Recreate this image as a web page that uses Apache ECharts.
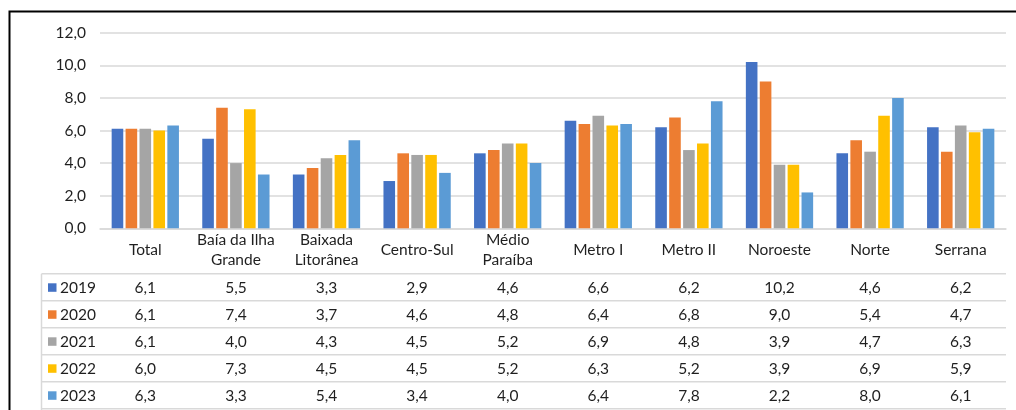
<!DOCTYPE html>
<html>
<head>
<meta charset="utf-8">
<script src="https://cdn.jsdelivr.net/npm/echarts@6/dist/echarts.min.js"></script>
<style>
  html, body { margin: 0; padding: 0; background: #fff; }
  #chart { width: 1016px; height: 410px; }
</style>
</head>
<body>
<div id="chart"></div>
<script>
const categories = ['Total', 'Baía da Ilha\nGrande', 'Baixada\nLitorânea', 'Centro-Sul', 'Médio\nParaíba',
  'Metro I', 'Metro II', 'Noroeste', 'Norte', 'Serrana']
const years = ['2019', '2020', '2021', '2022', '2023']
const s2019 = [6.1, 5.5, 3.3, 2.9, 4.6, 6.6, 6.2, 10.2, 4.6, 6.2]
const s2020 = [6.1, 7.4, 3.7, 4.6, 4.8, 6.4, 6.8, 9.0, 5.4, 4.7]
const s2021 = [6.1, 4.0, 4.3, 4.5, 5.2, 6.9, 4.8, 3.9, 4.7, 6.3]
const s2022 = [6.0, 7.3, 4.5, 4.5, 5.2, 6.3, 5.2, 3.9, 6.9, 5.9]
const s2023 = [6.3, 3.3, 5.4, 3.4, 4.0, 6.4, 7.8, 2.2, 8.0, 6.1]
const yTicks = [0, 2, 4, 6, 8, 10, 12]

const seriesData = [s2019, s2020, s2021, s2022, s2023]
const colors = ['#4472C4', '#ED7D31', '#A5A5A5', '#FFC000', '#5B9BD5']
const FONT = 'Lato, "Open Sans", sans-serif'
const FS = 15.5
const TXT = '#1f1f1f'
const LINE = '#d9d9d9'

// formato brasileiro: vírgula decimal
const fmt = (v) => v.toFixed(1).replace('.', ',')

const chart = echarts.init(document.getElementById('chart'))

const option = {
  animation: false,
  color: colors,
  textStyle: { fontFamily: FONT },
  grid: { left: 100, right: 10, top: 32.7, bottom: 181.7 },
  xAxis: {
    type: 'category',
    data: categories,
    axisLine: { lineStyle: { color: LINE, width: 1.5 } },
    axisTick: { length: 184, lineStyle: { color: LINE, width: 1.5 } },
    axisLabel: {
      fontSize: FS,
      color: TXT,
      lineHeight: 20,
      margin: 22,
      verticalAlign: 'middle',
      interval: 0
    }
  },
  yAxis: {
    type: 'value',
    min: yTicks[0],
    max: yTicks[yTicks.length - 1],
    interval: 2,
    axisLine: { show: false },
    axisTick: { show: false },
    splitLine: { lineStyle: { color: LINE, width: 1.5 } },
    axisLabel: { fontSize: FS, color: TXT, margin: 14, formatter: (v) => fmt(v) }
  },
  series: years.map((y, i) => ({
    name: y,
    type: 'bar',
    data: seriesData[i],
    barWidth: 11.6,
    barGap: '20%'
  }))
}

chart.setOption(option)

// tabela de dados abaixo do eixo
const buildTable = () => {
  const px = (c) => chart.convertToPixel({ xAxisIndex: 0 }, c)
  const y0 = chart.convertToPixel({ yAxisIndex: 0 }, 0)
  const headH = 45.5
  const rowH = 27
  const xLeft = 41.5
  const xRight = px(categories.length - 1) + (px(1) - px(0)) / 2
  const top = y0 + headH
  const els = []

  for (let k = 0; k <= years.length; k++) {
    const yy = top + k * rowH
    els.push({
      type: 'line',
      shape: { x1: xLeft, y1: yy, x2: xRight, y2: yy },
      style: { stroke: LINE, lineWidth: 1.5 },
      silent: true
    })
  }
  els.push({
    type: 'line',
    shape: { x1: xLeft, y1: top, x2: xLeft, y2: 412 },
    style: { stroke: LINE, lineWidth: 1.5 },
    silent: true
  })

  years.forEach((yr, r) => {
    const cy = top + r * rowH + rowH / 2
    els.push({
      type: 'rect',
      shape: { x: 48, y: cy - 4, width: 8.5, height: 8.5 },
      style: { fill: colors[r] },
      silent: true
    })
    els.push({
      type: 'text',
      x: 60,
      y: cy + 1,
      style: {
        text: yr, fontSize: FS, fontFamily: FONT, fill: TXT,
        align: 'left', verticalAlign: 'middle',
        textAlign: 'left', textVerticalAlign: 'middle'
      },
      silent: true
    })
    seriesData[r].forEach((v, c) => {
      els.push({
        type: 'text',
        x: px(c),
        y: cy + 1,
        style: {
          text: fmt(v), fontSize: FS, fontFamily: FONT, fill: TXT,
          align: 'center', verticalAlign: 'middle',
          textAlign: 'center', textVerticalAlign: 'middle'
        },
        silent: true
      })
    })
  })

  // moldura
  els.push({
    type: 'rect',
    shape: { x: 9.5, y: 11.5, width: 1200, height: 600 },
    style: { fill: 'none', stroke: '#000', lineWidth: 2 },
    silent: true
  })

  chart.setOption({ graphic: els })
}

buildTable()
</script>
</body>
</html>
